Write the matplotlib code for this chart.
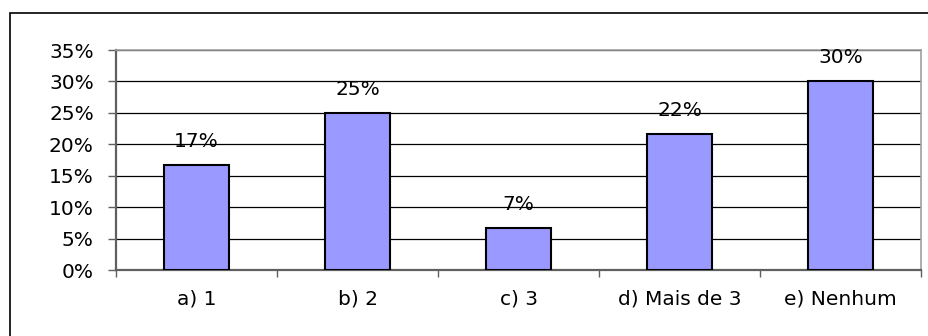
import matplotlib.pyplot as plt
from matplotlib.patches import Rectangle

plt.rcParams['font.family'] = ['DejaVu Sans']

categories = ["a) 1", "b) 2", "c) 3", "d) Mais de 3", "e) Nenhum"]
values = [16.7, 25.0, 6.7, 21.7, 30.0]
labels = ["17%", "25%", "7%", "22%", "30%"]
yticks = [0, 5, 10, 15, 20, 25, 30, 35]

fs = 14.5
fig = plt.figure(figsize=(9.29, 3.36), dpi=100)
W, H = 929, 336

# outer chart border
fig.patches.append(Rectangle((10 / W, -0.05), 1.0, (H - 13) / H + 0.05,
                             transform=fig.transFigure, fill=False,
                             edgecolor="black", linewidth=1.2))

ax = fig.add_axes([116 / W, (H - 270) / H, (921 - 116) / W, (270 - 50) / H])

x = range(len(categories))
ax.bar(x, values, width=0.4, color="#9999FF", edgecolor="black",
       linewidth=1.5, zorder=3)
for i, v in enumerate(values):
    ax.annotate(labels[i], (i, v), xytext=(0, 13), textcoords="offset points",
                ha="center", va="baseline", fontsize=fs)

ax.set_xlim(-0.5, len(categories) - 0.5)
ax.set_ylim(0, 35)
ax.set_yticks(yticks)
ax.set_yticklabels([f"{t}%" for t in yticks], fontsize=fs)
ax.yaxis.grid(True, color="black", linewidth=0.9)
ax.set_axisbelow(True)

ax.set_xticks([i - 0.5 for i in range(len(categories) + 1)])
ax.set_xticklabels([])
ax.set_xticks(list(x), minor=True)
ax.set_xticklabels(categories, minor=True, fontsize=fs)
ax.tick_params(axis="x", which="major", length=5, color="#606060", width=1)
ax.tick_params(axis="x", which="minor", length=0, pad=14)
ax.tick_params(axis="y", length=6, color="#606060", width=1, pad=10)

for s in ["left", "bottom"]:
    ax.spines[s].set_color("#606060")
    ax.spines[s].set_linewidth(1.6)
for s in ["top", "right"]:
    ax.spines[s].set_color("#A0A0A0")
    ax.spines[s].set_linewidth(1.2)

fig.savefig("out.png", dpi=100)
